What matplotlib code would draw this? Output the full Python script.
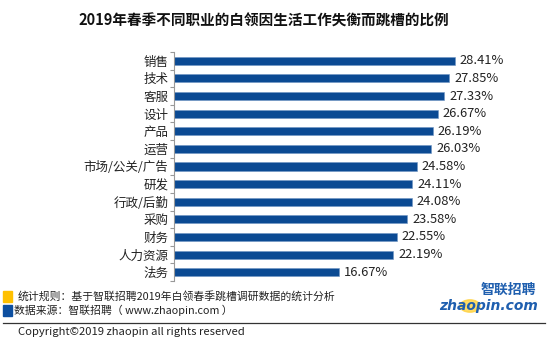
import numpy as np
import matplotlib.pyplot as plt
from matplotlib.patches import Rectangle, Circle

plt.rcParams['font.family'] = ['Noto Sans CJK SC', 'DejaVu Sans']

categories = ['销售', '技术', '客服', '设计', '产品', '运营', '市场/公关/广告',
              '研发', '行政/后勤', '采购', '财务', '人力资源', '法务']
values = [28.41, 27.85, 27.33, 26.67, 26.19, 26.03, 24.58,
          24.11, 24.08, 23.58, 22.55, 22.19, 16.67]

bar_color = '#0B4A93'

fig = plt.figure(figsize=(5.5, 3.41), dpi=100)
ax = fig.add_axes([0.3164, 0.176, 0.611, 0.6715])

y = np.arange(len(categories))
ax.barh(y, values, height=0.46, color=bar_color, edgecolor='#6f95c4', linewidth=0.4)
ax.set_ylim(len(categories) - 0.5, -0.5)
ax.set_xlim(0, 34)

for yi, v in zip(y, values):
    ax.text(v + 0.5, yi, f'{v:.2f}%', va='center', ha='left', fontsize=9.3, color='#222222')

ax.set_yticks(y)
ax.set_yticklabels(categories, fontsize=9, color='#222222')
ax.tick_params(axis='y', which='major', length=0, pad=4)
ax.set_yticks(np.arange(-0.5, len(categories), 1), minor=True)
ax.tick_params(axis='y', which='minor', length=3, color='#999999', width=0.8)
ax.set_xticks([])
for s in ['top', 'right', 'bottom']:
    ax.spines[s].set_visible(False)
ax.spines['left'].set_color('#999999')
ax.spines['left'].set_linewidth(0.8)

fig.text(0.48, 0.94, '2019年春季不同职业的白领因生活工作失衡而跳槽的比例',
         ha='center', va='center', fontsize=10.5, fontweight='bold', color='#111111')

# footnotes
fig.patches.append(Rectangle((3 / 550, 1 - 302 / 341), 9 / 550, 11 / 341,
                             transform=fig.transFigure, color='#FFC000'))
fig.patches.append(Rectangle((3 / 550, 1 - 316 / 341), 9 / 550, 11 / 341,
                             transform=fig.transFigure, color='#0D4FA0'))
fig.text(18 / 550, 1 - 296 / 341, '统计规则：基于智联招聘2019年白领春季跳槽调研数据的统计分析',
         ha='left', va='center', fontsize=7.8, color='#222222')
fig.text(14 / 550, 1 - 310 / 341, '数据来源：智联招聘（ www.zhaopin.com ）',
         ha='left', va='center', fontsize=7.8, color='#222222')
fig.add_artist(plt.Line2D([3 / 550, 545 / 550], [1 - 323 / 341, 1 - 323 / 341],
                          transform=fig.transFigure, color='#333333', linewidth=0.9))
fig.text(18 / 550, 1 - 332 / 341, 'Copyright©2019 zhaopin all rights reserved',
         ha='left', va='center', fontsize=8.1, color='#222222')

# logo
fig.patches.append(Circle((470 / 550, 1 - 306 / 341), 10 / 550,
                          transform=fig.transFigure, color='#FFD23F', alpha=0.8))
fig.text(508 / 550, 1 - 290 / 341, '智联招聘', ha='center', va='center',
         fontsize=10, fontweight='bold', fontstyle='italic', color='#1F5FAF')
fig.text(489 / 550, 1 - 306 / 341, 'zhaopin.com', ha='center', va='center',
         fontsize=10, fontweight='bold', fontstyle='italic', color='#1F5FAF',
         family='DejaVu Sans')

fig.savefig('out.png', dpi=100)
